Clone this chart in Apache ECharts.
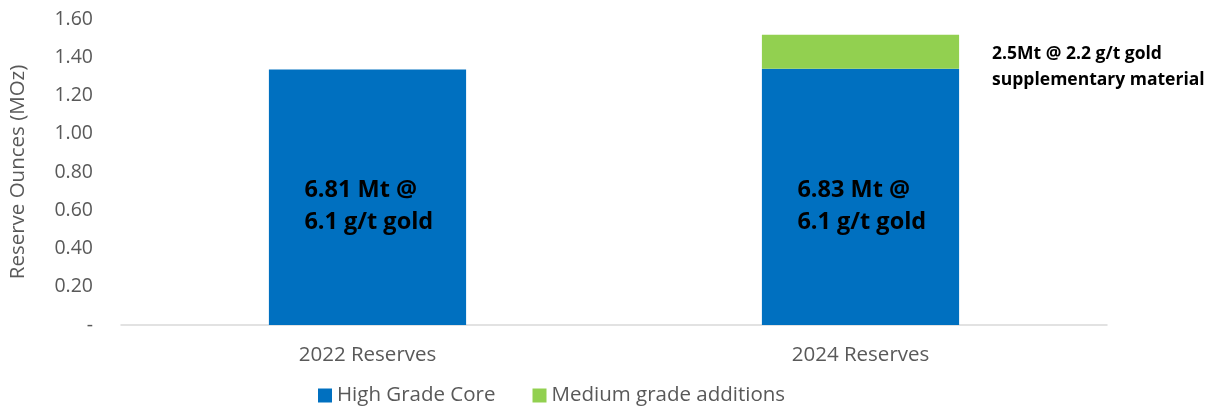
<!DOCTYPE html>
<html><head><meta charset="utf-8">
<script src="https://cdn.jsdelivr.net/npm/echarts@6/dist/echarts.min.js"></script>
<style>html,body{margin:0;padding:0;background:#fff}#c{width:1217px;height:410px}</style>
</head><body><div id="c"></div>
<script>
const categories = ['2022 Reserves', '2024 Reserves'];
const highGradeCore = [1.336, 1.34];
const mediumGradeAdditions = [null, 0.177];
const coreLabels = ['6.81 Mt @\n6.1 g/t gold', '6.83 Mt @\n6.1 g/t gold'];
const additionLabels = ['', '2.5Mt @ 2.2 g/t gold\nsupplementary material'];
const yTicks = ['-', '0.20', '0.40', '0.60', '0.80', '1.00', '1.20', '1.40', '1.60'];

const FONT = 'Open Sans';
const chart = echarts.init(document.getElementById('c'), null, {renderer: 'canvas'});
chart.setOption({
  animation: false,
  textStyle: {fontFamily: FONT},
  grid: {left: 119, right: 110, top: 19, bottom: 85, containLabel: false},
  legend: {
    left: 313, top: 380, icon: 'rect', itemWidth: 14, itemHeight: 14, itemGap: 37, itemTextGap: 5,
    textStyle: {fontFamily: FONT, fontSize: 20.5, color: '#595959'},
    data: ['High Grade Core', 'Medium grade additions']
  },
  xAxis: {
    type: 'category', data: categories,
    axisLine: {lineStyle: {color: '#d9d9d9', width: 1.5}},
    axisTick: {show: false},
    axisLabel: {fontFamily: FONT, fontSize: 20.5, color: '#595959', margin: 20}
  },
  yAxis: {
    type: 'value', min: 0, max: 1.6, interval: 0.2,
    name: 'Reserve Ounces (MOz)', nameLocation: 'middle', nameGap: 92, nameRotate: 90,
    nameTextStyle: {fontFamily: FONT, fontSize: 20.5, color: '#595959'},
    axisLine: {show: false}, axisTick: {show: false}, splitLine: {show: false},
    axisLabel: {fontFamily: FONT, fontSize: 19.5, color: '#595959', margin: 28,
      formatter: (v) => yTicks[Math.round(v / 0.2)]}
  },
  series: [
    {
      name: 'High Grade Core', type: 'bar', stack: 'r', barWidth: '40%',
      data: highGradeCore,
      itemStyle: {color: '#0070C0'},
      label: {show: true, position: ['18%', '53.5%'], align: 'left', verticalAlign: 'middle',
        fontFamily: FONT, fontWeight: 'bold', fontSize: 23.5, lineHeight: 32, color: '#000',
        formatter: (p) => coreLabels[p.dataIndex]}
    },
    {
      name: 'Medium grade additions', type: 'bar', stack: 'r', barWidth: '40%',
      data: mediumGradeAdditions,
      itemStyle: {color: '#92D050'},
      label: {show: true, position: 'right', distance: 33, offset: [0, 15], align: 'left',
        fontFamily: FONT, fontWeight: 'bold', fontSize: 17.5, lineHeight: 26, color: '#000',
        formatter: (p) => additionLabels[p.dataIndex]}
    }
  ]
});
</script></body></html>
